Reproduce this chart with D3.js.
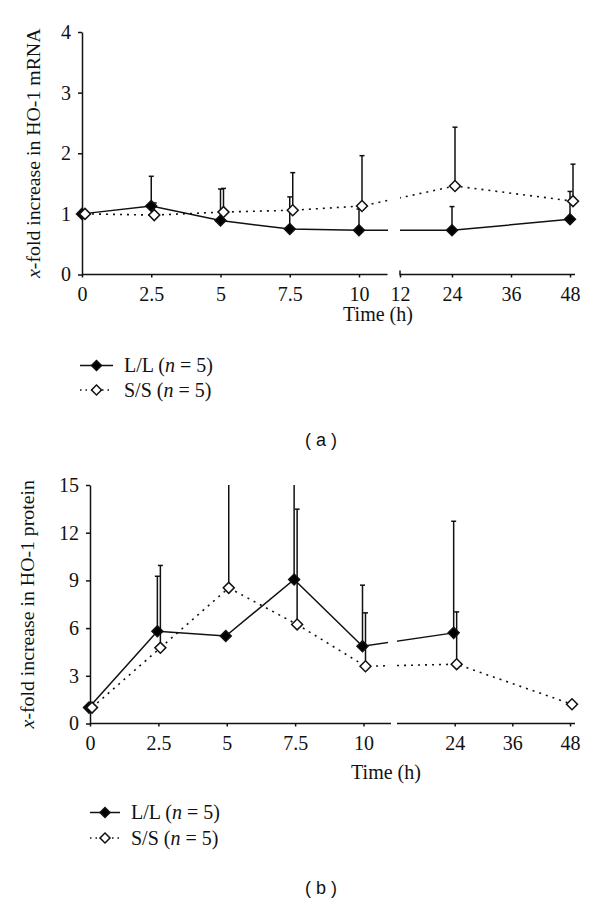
<!DOCTYPE html>
<html>
<head>
<meta charset="utf-8">
<script src="https://cdn.jsdelivr.net/npm/d3@7"></script>
<style>
  html, body { margin: 0; padding: 0; background: #fff; }
  svg { display: block; }
</style>
</head>
<body>
<svg id="chart" width="600" height="900"></svg>
<script>
// ---------------- DATA ----------------
const times = [0, 2.5, 5, 7.5, 10, 24, 48];
const ticksEarly = [0, 2.5, 5, 7.5, 10];
const ticksLateA = [12, 24, 36, 48];
const ticksLateB = [24, 36, 48];
const yTicksA = [0, 1, 2, 3, 4];
const yTicksB = [0, 3, 6, 9, 12, 15];

// Panel (a): HO-1 mRNA
const llMrna      = [1.00, 1.13, 0.89, 0.75, 0.73, 0.73, 0.91];
const llMrnaUpper = [null, 1.62, 1.41, 1.28, 1.08, 1.12, 1.37];
const ssMrna      = [1.00, 0.98, 1.03, 1.06, 1.13, 1.46, 1.21];
const ssMrnaUpper = [null, 1.18, 1.42, 1.68, 1.96, 2.43, 1.82];

// Panel (b): HO-1 protein
const llProt      = [1.00, 5.80, 5.50, 9.06, 4.86, 5.70, null];
const llProtUpper = [null, 9.26, null, 16.5, 8.70, 12.72, null];
const ssProt      = [1.00, 4.76, 8.53, 6.23, 3.60, 3.73, 1.21];
const ssProtUpper = [null, 9.94, 16.5, 13.48, 6.96, 7.02, null];

const legendLabels = ["L/L", "S/S"];
const nLabel = "5";

// ---------------- DRAW ----------------
const svg = d3.select("#chart");
const SERIF = "'Liberation Serif', 'Times New Roman', serif";
const FS = 20;      // tick / legend font size
const TFS = 19.8;   // y title font size

function drawPanel(cfg) {
  const g = svg.append("g");
  const xE = d3.scaleLinear().domain([0, 10]).range(cfg.early);
  const xL = d3.scaleLinear().domain(cfg.lateDomain).range(cfg.lateRange);
  const y = d3.scaleLinear().domain(cfg.yDomain).range(cfg.yRange);
  const xpos = t => t <= 10 ? xE(t) : xL(t);

  const defs = svg.append("defs");
  const clipId = "clip" + cfg.id;
  const cp = defs.append("clipPath").attr("id", clipId);
  cp.append("rect").attr("x", 0).attr("y", cfg.yRange[1]).attr("width", cfg.gap[0]).attr("height", 400);
  cp.append("rect").attr("x", cfg.gap[1]).attr("y", cfg.yRange[1]).attr("width", 600 - cfg.gap[1]).attr("height", 400);
  const errClip = "eclip" + cfg.id;
  defs.append("clipPath").attr("id", errClip)
    .append("rect").attr("x", 0).attr("y", cfg.yRange[1]).attr("width", 600).attr("height", 400);

  // axes
  const fmt = d3.format("~g");
  const axE = d3.axisBottom(xE).tickValues(ticksEarly).tickSizeInner(3).tickSizeOuter(0).tickPadding(9).tickFormat(fmt);
  const gE = g.append("g").attr("transform", `translate(0,${cfg.yRange[0]})`).call(axE);
  gE.select(".domain").attr("d", `M${cfg.early[0]},0H${cfg.axisEnd1}`);
  const axL = d3.axisBottom(xL).tickValues(cfg.lateTicks).tickSizeInner(3).tickSizeOuter(0).tickPadding(9).tickFormat(fmt);
  const gL = g.append("g").attr("transform", `translate(0,${cfg.yRange[0]})`).call(axL);
  gL.select(".domain").attr("d", `M${cfg.gap[1]},${cfg.id === "a" ? -4 : 0}V0H${cfg.axisEnd2}`);

  const axY = d3.axisLeft(y).tickValues(cfg.yTicks).tickSizeInner(4).tickSizeOuter(0).tickPadding(7).tickFormat(fmt);
  const gY = g.append("g").attr("transform", `translate(${cfg.early[0]},0)`).call(axY);

  [gE, gL, gY].forEach(a => {
    a.attr("font-family", SERIF).attr("font-size", FS);
    a.selectAll("path, line").attr("stroke", "#111").attr("stroke-width", 1.5);
    a.selectAll("text").attr("fill", "#111");
  });

  // y title
  const yt = g.append("text")
    .attr("transform", `translate(${cfg.titleX},${(cfg.yRange[0] + cfg.yRange[1]) / 2}) rotate(-90)`)
    .attr("text-anchor", "middle").attr("font-family", SERIF).attr("font-size", TFS).attr("fill", "#111");
  yt.append("tspan").attr("font-style", "italic").text("x");
  yt.append("tspan").text(cfg.title);

  // x title
  g.append("text").attr("x", cfg.timeX).attr("y", cfg.timeY).attr("text-anchor", "middle")
    .attr("font-family", SERIF).attr("font-size", FS).attr("fill", "#111").text("Time (h)");

  const series = [
    { vals: cfg.ll, upper: cfg.llUp, dx: cfg.dxLL, dash: null, fill: "#000" },
    { vals: cfg.ss, upper: cfg.ssUp, dx: cfg.dxSS, dash: "2,5", fill: "#fff" }
  ];

  // error bars
  series.forEach(s => {
    const eb = g.append("g").attr("clip-path", `url(#${errClip})`);
    times.forEach((t, i) => {
      if (s.upper[i] == null || s.vals[i] == null) return;
      const cx = xpos(t) + s.dx;
      eb.append("line").attr("x1", cx).attr("x2", cx).attr("y1", y(s.vals[i])).attr("y2", y(s.upper[i]))
        .attr("stroke", "#111").attr("stroke-width", 1.5);
      eb.append("line").attr("x1", cx - 2.5).attr("x2", cx + 2.5).attr("y1", y(s.upper[i])).attr("y2", y(s.upper[i]))
        .attr("stroke", "#111").attr("stroke-width", 1.5);
    });
  });

  // lines
  series.forEach(s => {
    const pts = times.map((t, i) => ({ t, v: s.vals[i] })).filter(d => d.v != null);
    const line = d3.line().x(d => xpos(d.t) + s.dx).y(d => y(d.v));
    g.append("path").datum(pts).attr("d", line).attr("fill", "none").attr("stroke", "#111")
      .attr("stroke-width", s.dash ? 1.6 : 1.5).attr("stroke-dasharray", s.dash)
      .attr("clip-path", `url(#${clipId})`);
  });

  // markers
  const sym = d3.symbol().type(d3.symbolSquare).size(60);
  series.forEach(s => {
    times.forEach((t, i) => {
      if (s.vals[i] == null) return;
      g.append("path").attr("d", sym())
        .attr("transform", `translate(${xpos(t) + s.dx},${y(s.vals[i])}) rotate(45)`)
        .attr("fill", s.fill).attr("stroke", "#111").attr("stroke-width", 1.5);
    });
  });

  // legend
  series.forEach((s, k) => {
    const ly = cfg.legY[k];
    g.append("line").attr("x1", cfg.legX[0]).attr("x2", cfg.legX[1]).attr("y1", ly).attr("y2", ly)
      .attr("stroke", "#111").attr("stroke-width", 1.5).attr("stroke-dasharray", s.dash ? "1.5,4" : null);
    g.append("path").attr("d", d3.symbol().type(d3.symbolSquare).size(50)())
      .attr("transform", `translate(${(cfg.legX[0] + cfg.legX[1]) / 2},${ly}) rotate(45)`)
      .attr("fill", s.fill).attr("stroke", "#111").attr("stroke-width", 1.5);
    const tx = g.append("text").attr("x", cfg.legX[1] + 11).attr("y", ly + 6.5)
      .attr("font-family", SERIF).attr("font-size", FS).attr("fill", "#111");
    tx.append("tspan").text(legendLabels[k] + " (");
    tx.append("tspan").attr("font-style", "italic").text("n");
    tx.append("tspan").text(" = " + nLabel + ")");
  });

  // panel label
  g.append("text").attr("x", 321).attr("y", cfg.labelY).attr("text-anchor", "middle")
    .attr("font-family", "'Liberation Sans', Arial, sans-serif").attr("font-size", 18).attr("fill", "#111")
    .attr("xml:space", "preserve").text(cfg.label);
}

drawPanel({
  id: "a",
  early: [82, 359], lateDomain: [12, 24, 36, 48], lateRange: [400, 452, 511, 570], lateTicks: ticksLateA,
  axisEnd1: 387.5, axisEnd2: 575, gap: [388, 400],
  yDomain: [0, 4], yRange: [274.5, 32], yTicks: yTicksA,
  title: "-fold increase in HO-1 mRNA", titleX: 40,
  timeX: 378, timeY: 321,
  ll: llMrna, llUp: llMrnaUpper, ss: ssMrna, ssUp: ssMrnaUpper, dxLL: 0, dxSS: 3,
  legX: [80, 113], legY: [365.5, 390],
  label: "( a )", labelY: 446
});

drawPanel({
  id: "b",
  early: [90, 363.5], lateDomain: [12, 48], lateRange: [397, 570], lateTicks: ticksLateB,
  axisEnd1: 391, axisEnd2: 575, gap: [388, 397],
  yDomain: [0, 15], yRange: [723.5, 485], yTicks: yTicksB,
  title: "-fold increase in HO-1 protein", titleX: 34,
  timeX: 386, timeY: 779,
  ll: llProt, llUp: llProtUpper, ss: ssProt, ssUp: ssProtUpper, dxLL: -1, dxSS: 2,
  legX: [90, 120], legY: [812.5, 838],
  label: "( b )", labelY: 894
});
</script>
</body>
</html>
